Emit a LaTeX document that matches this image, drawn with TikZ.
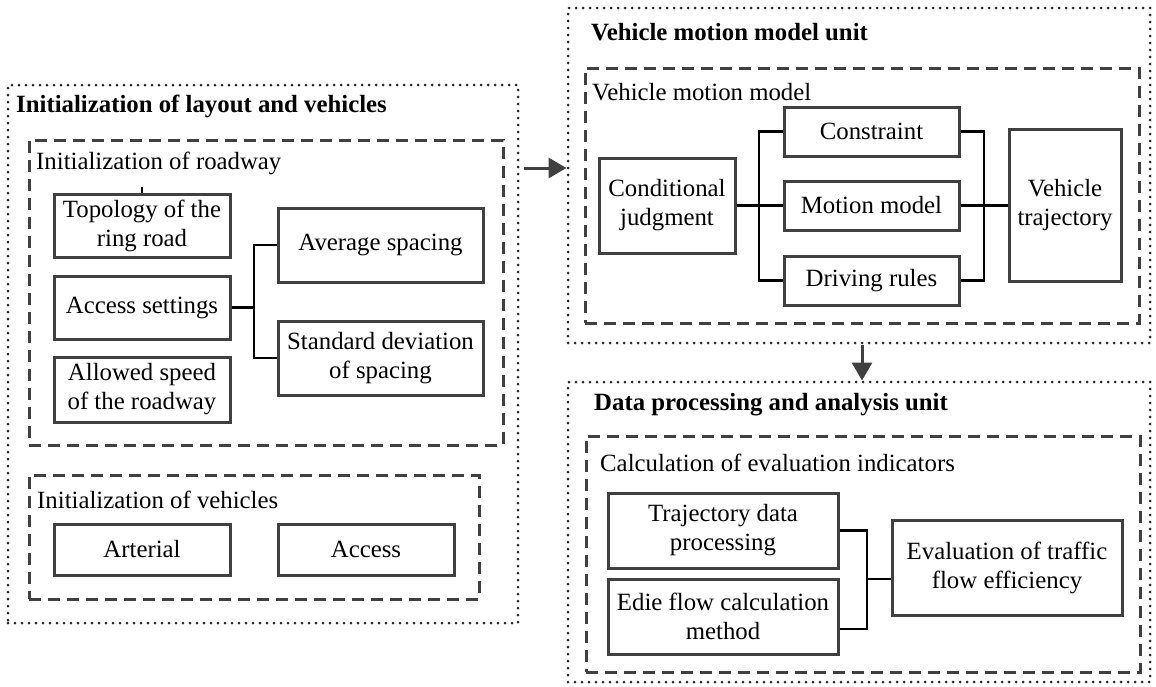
\documentclass[tikz,border=0pt]{standalone}
\usepackage{fontspec}
\setmainfont{Liberation Serif}
\usetikzlibrary{arrows.meta}
\definecolor{bord}{RGB}{64,64,64}
\begin{document}
\begin{tikzpicture}[x=1pt,y=-1pt,
  every node/.style={font=\fontsize{24.8}{29}\selectfont, text=black},
  bx/.style={draw=bord, line width=3pt, align=center, inner sep=0pt},
  dsh/.style={draw=bord, line width=3pt, dash pattern=on 12pt off 7pt, inner sep=0pt},
  dot/.style={draw=black!85, line width=3pt, dash pattern=on 0pt off 7pt, line cap=round, inner sep=0pt},
  conn/.style={draw=black, line width=2.2pt},
  arr/.style={draw=bord, line width=3pt, -{Triangle[length=18pt,width=20pt]}},
  lbl/.style={anchor=west, inner sep=0pt},
  ttl/.style={anchor=west, inner sep=0pt, font=\fontsize{24.8}{29}\selectfont\bfseries}]
\useasboundingbox (0,0) rectangle (1156,686);
% outer dotted units
\node[dot, minimum width=510pt, minimum height=538pt] (u1) at (263,354) {};
\node[dot, minimum width=582pt, minimum height=335pt] (u2) at (859,175.5) {};
\node[dot, minimum width=582pt, minimum height=300pt] (u3) at (859,532) {};
% dashed groups
\node[dsh, minimum width=474pt, minimum height=305pt] (road) at (266,292.5) {};
\node[dsh, minimum width=450pt, minimum height=124pt] (veh) at (254,537) {};
\node[dsh, minimum width=554pt, minimum height=255pt] (vmm) at (862,195.5) {};
\node[dsh, minimum width=554pt, minimum height=236pt] (calc) at (863,554) {};
% titles and labels
\node[ttl] (t1) at (16,106) {Initialization of layout and vehicles};
\node[ttl] (t2) at (591,32) {Vehicle motion model unit};
\node[ttl] (t3) at (594,405) {Data processing and analysis unit};
\node[lbl] (l1) at (36,163) {Initialization of roadway};
\node[lbl] (l2) at (37,500) {Initialization of vehicles};
\node[lbl] (l3) at (592,92) {Vehicle motion model};
\node[lbl] (l4) at (600,463) {Calculation of evaluation indicators};
% left boxes
\node[bx, minimum width=176pt, minimum height=63pt] (topo) at (142,225.5) {Topology of the\\ring road};
\node[bx, minimum width=176pt, minimum height=63pt] (acc) at (142,307.5) {Access settings};
\node[bx, minimum width=176pt, minimum height=65pt] (speed) at (142,389.5) {Allowed speed\\of the roadway};
\node[bx, minimum width=205pt, minimum height=74pt] (avg) at (380.5,245) {Average spacing};
\node[bx, minimum width=205pt, minimum height=74pt] (std) at (380.5,358) {Standard deviation\\of spacing};
\node[bx, minimum width=176pt, minimum height=51pt] (art) at (142,549.5) {Arterial};
\node[bx, minimum width=176pt, minimum height=51pt] (acv) at (366,549.5) {Access};
% vehicle motion model
\node[bx, minimum width=136pt, minimum height=95pt] (cond) at (667,205.5) {Conditional\\judgment};
\node[bx, minimum width=175pt, minimum height=49pt] (cons) at (871.5,131.5) {Constraint};
\node[bx, minimum width=175pt, minimum height=49pt] (mot) at (871.5,205.5) {Motion model};
\node[bx, minimum width=175pt, minimum height=49pt] (drv) at (871.5,280.5) {Driving rules};
\node[bx, minimum width=112pt, minimum height=152pt] (traj) at (1065,205.5) {Vehicle\\trajectory};
% data processing
\node[bx, minimum width=230pt, minimum height=75pt] (tdp) at (723,530.5) {Trajectory data\\processing};
\node[bx, minimum width=230pt, minimum height=75pt] (edie) at (723,616.5) {Edie flow calculation\\method};
\node[bx, minimum width=230pt, minimum height=95pt] (eval) at (1007,567.5) {Evaluation of traffic\\flow efficiency};
% junction coordinates
\coordinate (j1) at (254,0);
\coordinate (j2) at (759,0);
\coordinate (j3) at (984,0);
\coordinate (j4) at (867,0);
% connectors
\draw[conn] (topo.north) -- ++(0,-6);
\draw[conn] (acc.east) -- (acc.east -| j1);
\draw[conn] (avg.west) -| (j1 |- std.west) -- (std.west);
\draw[conn] (cons.west) -| (j2 |- drv.west) -- (drv.west);
\draw[conn] (cond.east) -- (mot.west);
\draw[conn] (cons.east) -| (j3 |- drv.east) -- (drv.east);
\draw[conn] (mot.east) -- (traj.west);
\draw[conn] (tdp.east) -| (j4 |- 0,629) -- (edie.east |- 0,629);
\draw[conn] (j4 |- 0,579) -- (eval.west |- 0,579);
% arrows between units
\draw[arr] (u1.east |- 0,168) ++(4,0) -- (u2.west |- 0,168);
\draw[arr] (u2.south -| 862,0) -- (u3.north -| 862,0);
\end{tikzpicture}
\end{document}
